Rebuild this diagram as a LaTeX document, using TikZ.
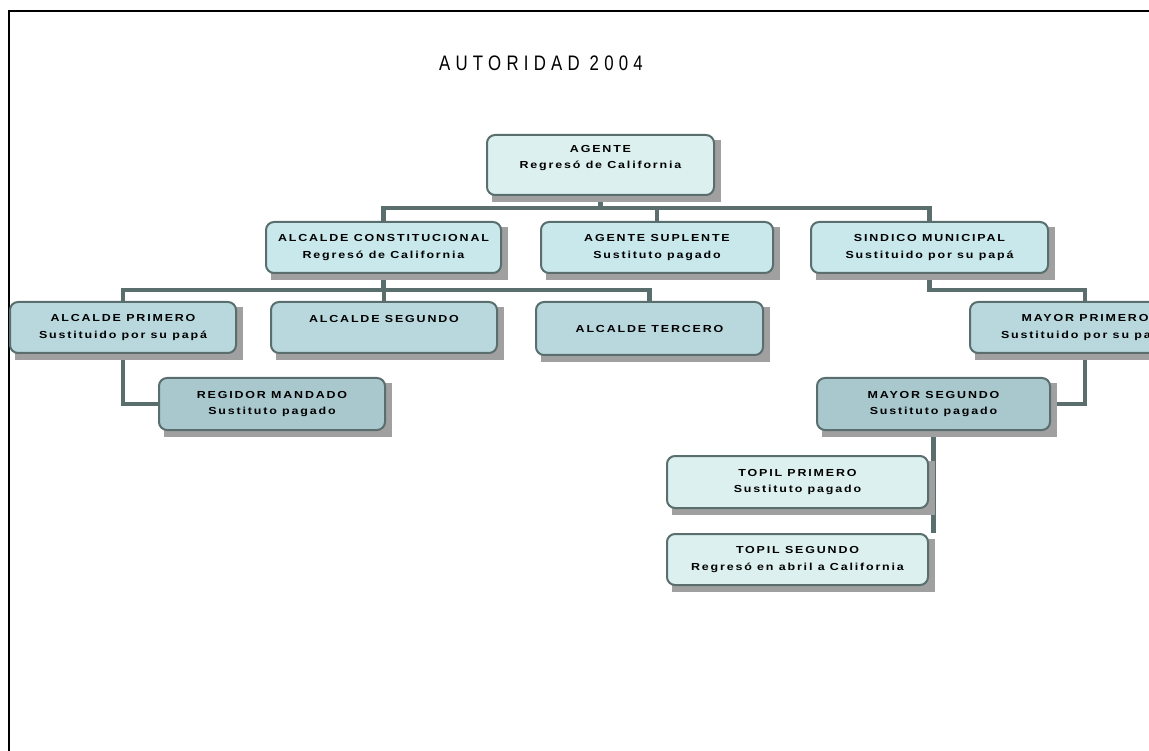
\documentclass[tikz,border=0pt]{standalone}
\usepackage{fontspec}
\setmainfont{Liberation Sans}
\newfontfamily\boxfont{Liberation Sans}[FakeStretch=1.22,LetterSpace=18]
\newfontfamily\titlefont{Liberation Sans}[FakeStretch=0.8,LetterSpace=25]
\usetikzlibrary{calc,backgrounds}
\definecolor{edgegray}{RGB}{90,110,110}
\definecolor{shadegray}{RGB}{160,160,160}
\definecolor{paleA}{RGB}{221,240,240}
\definecolor{paleB}{RGB}{200,232,236}
\definecolor{paleC}{RGB}{184,216,222}
\definecolor{paleD}{RGB}{168,200,206}

\begin{document}
\begin{tikzpicture}[x=1pt,y=-1pt,
    post/.style={draw=edgegray,line width=2pt,rounded corners=8pt,minimum width=227pt,minimum height=51pt,
      align=center,inner sep=0pt,font=\boxfont\bfseries\fontsize{10.2}{16.5}\selectfont},
    link/.style={draw=edgegray,line width=4.5pt}]
    \useasboundingbox (0,0) rectangle (1149,751);
    \clip (0,0) rectangle (1149,751);
    \draw[line width=2pt] (9,751) -- (9,11) -- (1149,11);
    \node[font=\titlefont\fontsize{21}{25}\selectfont] (titulo) at (541,63) {AUTORIDAD 2004};
    % top
    \node[post,fill=paleA,minimum height=60pt] (agente) at (600.5,165) {AGENTE\\Regresó de California\\\mbox{}};
    % second row
    \node[post,fill=paleB,minimum width=235pt] (alcconst) at (383.5,247.5) {ALCALDE CONSTITUCIONAL\\Regresó de California};
    \node[post,fill=paleB,minimum width=232pt] (suplente) at (657,247.5) {AGENTE SUPLENTE\\Sustituto pagado};
    \node[post,fill=paleB,minimum width=237pt] (sindico) at (929.5,247.5) {SINDICO MUNICIPAL\\Sustituido por su papá};
    % third row
    \node[post,fill=paleC,minimum width=226pt] (alc1) at (123,327.5) {ALCALDE PRIMERO\\Sustituido por su papá};
    \node[post,fill=paleC,minimum width=226pt] (alc2) at (384,327.5) {ALCALDE SEGUNDO\\\mbox{}};
    \node[post,fill=paleC,minimum height=53pt] (alc3) at (649.5,328.5) {ALCALDE TERCERO};
    \node[post,fill=paleC,minimum width=230pt] (mayor1) at (1085,327.5) {MAYOR PRIMERO\\Sustituido por su papá};
    % fourth row
    \node[post,fill=paleD,minimum width=226pt,minimum height=52pt] (regidor) at (272,404) {REGIDOR MANDADO\\Sustituto pagado};
    \node[post,fill=paleD,minimum width=233pt,minimum height=52pt] (mayor2) at (933.5,404) {MAYOR SEGUNDO\\Sustituto pagado};
    % topiles
    \node[post,fill=paleA,minimum width=261pt,minimum height=52pt] (topil1) at (797.5,482) {TOPIL PRIMERO\\Sustituto pagado};
    \node[post,fill=paleA,minimum width=261pt] (topil2) at (797.5,559.5) {TOPIL SEGUNDO\\Regresó en abril a California};
    \begin{scope}[on background layer]
      \draw[link] (agente.south) -- ++(0,12) -| (alcconst.north);
      \draw[link] (agente.south) -- ++(0,12) -| (suplente.north);
      \draw[link] (agente.south) -- ++(0,12) -| (sindico.north);
      \draw[link] (alcconst.south) -- ++(0,16) -| (alc1.north);
      \draw[link] (alcconst.south) -- ++(0,16) -| (alc2.north);
      \draw[link] (alcconst.south) -- ++(0,16) -| (alc3.north);
      \draw[link] (alc1.south) |- (regidor.west);
      \draw[link] (sindico.south) -- ++(0,16) -| (mayor1.north);
      \draw[link] (mayor1.south) |- (mayor2.east);
      \draw[link] (mayor2.south) -- (mayor2.south |- topil2.north);
      % shadows
      \foreach \n in {agente,alcconst,suplente,sindico,alc1,alc2,alc3,mayor1,regidor,mayor2,topil1,topil2}
        \fill[shadegray] ([shift={(6,6)}]\n.north west) rectangle ([shift={(6,6)}]\n.south east);
    \end{scope}
\end{tikzpicture}
\end{document}
